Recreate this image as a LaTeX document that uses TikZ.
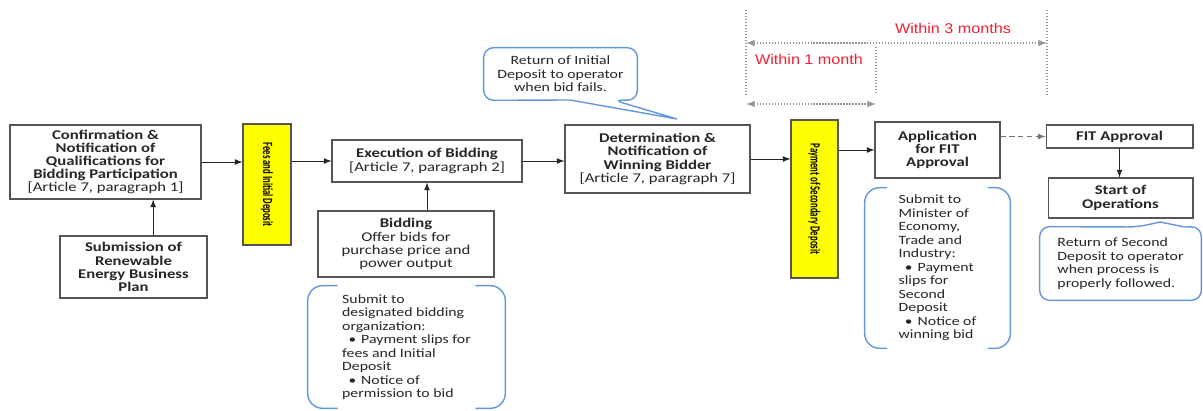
\documentclass[tikz,border=0pt]{standalone}
\usepackage{fontspec}
\setmainfont{Carlito}[FakeStretch=1.25]
\newfontfamily\narrowFont{Carlito}[FakeStretch=0.62]
\newfontfamily\monthFont{Liberation Sans}[FakeStretch=1.15]
\usepackage{tikz}
\tikzstyle{sheet} = [x = 0.02cm, y = -0.02cm]
\definecolor{boxLine}{RGB}{85,85,85}
\definecolor{depositYellow}{RGB}{255,255,0}
\definecolor{calloutBlue}{RGB}{100,150,220}
\definecolor{monthRed}{RGB}{240,30,50}
\definecolor{guideGray}{RGB}{150,150,150}
\tikzstyle{stepBox} = [draw=boxLine, fill=white, line width=0.6pt, align=center, inner sep=1pt, text=black!85, font=\fontsize{7.6}{7.5}\selectfont]
\tikzstyle{depositBox} = [draw=boxLine, fill=depositYellow, line width=0.6pt, inner sep=0pt]
\tikzstyle{depositText} = [rotate=-90, inner sep=0pt, font=\narrowFont\bfseries\fontsize{8}{8}\selectfont]
\tikzstyle{flowArrow} = [->, >=latex, line width=0.5pt, color=black!85]
\tikzstyle{noteLine} = [draw=calloutBlue, line width=0.8pt, rounded corners=0.2cm]
\tikzstyle{bracketLine} = [draw=calloutBlue, line width=0.8pt, rounded corners=0.3cm]
\tikzstyle{noteText} = [inner sep=0pt, align=left, text=black!85, font=\fontsize{7.2}{7.7}\selectfont]
\tikzstyle{guideLine} = [color=guideGray, densely dotted, line width=0.7pt]
\tikzstyle{monthText} = [color=monthRed, font=\monthFont\fontsize{8}{8}\selectfont]
\newcommand{\bracketPair}[2]{
  \draw [bracketLine] ([xshift=#2]#1.north west) -- (#1.north west) -- (#1.south west) -- ([xshift=#2]#1.south west);
  \draw [bracketLine] ([xshift=-#2]#1.north east) -- (#1.north east) -- (#1.south east) -- ([xshift=-#2]#1.south east);
}
\newcommand{\noteBullet}{\hspace{0.5em}{\scriptsize\textbullet}\hspace{0.4em}}

\begin{document}
\begin{tikzpicture}[sheet]
    \useasboundingbox (0,0) rectangle (1203,411);
    \node [stepBox, minimum width=3.82cm, minimum height=1.48cm] (confirmBox) at (105.5,162) {\textbf{Confirmation \&}\\\textbf{Notification of}\\\textbf{Qualifications for}\\\textbf{Bidding Participation}\\{[Article 7, paragraph 1]}};
    \node [stepBox, minimum width=2.94cm, minimum height=1.24cm] (planBox) at (133.5,267) {\textbf{Submission of}\\\textbf{Renewable}\\\textbf{Energy Business}\\\textbf{Plan}};
    \node [depositBox, minimum width=0.96cm, minimum height=2.42cm] (feeBox) at (267,184.5) {};
    \node [depositText] (feeText) at (feeBox) {Fees and Initial Deposit};
    \node [stepBox, minimum width=3.8cm, minimum height=0.84cm] (executeBox) at (427,161) {\textbf{Execution of Bidding}\\{[Article 7, paragraph 2]}};
    \node [stepBox, minimum width=3.52cm, minimum height=1.32cm] (bidBox) at (406,244) {\textbf{Bidding}\\Offer bids for\\purchase price and\\power output};
    \node [stepBox, minimum width=3.7cm, minimum height=1.36cm] (winnerBox) at (657.5,159) {\textbf{Determination \&}\\\textbf{Notification of}\\\textbf{Winning Bidder}\\{[Article 7, paragraph 7]}};
    \node [depositBox, minimum width=0.94cm, minimum height=3.16cm] (secondBox) at (814.5,199) {};
    \node [depositText] (secondText) at (secondBox) {Payment of Secondary Deposit};
    \node [stepBox, minimum width=2.5cm, minimum height=1.12cm] (applyBox) at (937.5,150) {\textbf{Application}\\\textbf{for FIT}\\\textbf{Approval}};
    \node [stepBox, minimum width=2.94cm, minimum height=0.46cm] (approvalBox) at (1119.5,136.5) {\textbf{FIT Approval}};
    \node [stepBox, minimum width=2.9cm, minimum height=0.8cm] (startBox) at (1120.5,198) {\textbf{Start of}\\\textbf{Operations}};

    \draw [flowArrow] (planBox.58) -- (planBox.58 |- confirmBox.south);
    \draw [flowArrow] (confirmBox.east) -- (confirmBox.east -| feeBox.west);
    \draw [flowArrow] (feeBox.east |- executeBox.west) -- (executeBox.west);
    \draw [flowArrow] (executeBox.south |- bidBox.north) -- (executeBox.south);
    \draw [flowArrow] (executeBox.east) -- (executeBox.east -| winnerBox.west);
    \draw [flowArrow] (winnerBox.east) -- (winnerBox.east -| secondBox.west);
    \draw [flowArrow] (secondBox.east |- applyBox.west) -- (applyBox.west);
    \draw [flowArrow, densely dashed, color=black!55] (applyBox.east |- approvalBox.west) -- (approvalBox.west);
    \draw [flowArrow] (approvalBox.south) -- (approvalBox.south |- startBox.north);

    \node [noteText, minimum width=3.94cm, minimum height=2.44cm] (bidNote) at (406.5,347) {Submit to\\designated bidding\\organization:\\\noteBullet Payment slips for\\fees and Initial\\Deposit\\\noteBullet Notice of\\permission to bid};
    \bracketPair{bidNote}{0.6cm}
    \node [noteText, minimum width=2.9cm, minimum height=3.2cm] (applyNote) at (937.5,268) {Submit to\\Minister of\\Economy,\\Trade and\\Industry:\\\noteBullet Payment\\slips for\\Second\\Deposit\\\noteBullet Notice of\\winning bid};
    \bracketPair{applyNote}{0.45cm}

    \node [noteText, align=center, minimum width=3.06cm, minimum height=1.04cm] (refundNote) at (560.5,74) {Return of Initial\\Deposit to operator\\when bid fails.};
    \coordinate (refundTip) at (677,119);
    \draw [noteLine] (refundNote.west) -- (refundNote.north west) -- (refundNote.north east) -- (refundNote.south east) -- (613,100) [sharp corners] -- (refundTip) -- (570,100) [rounded corners=0.2cm] -- (refundNote.south west) -- cycle;
    \node [noteText, minimum width=3.22cm, minimum height=1.46cm] (returnNote) at (1120.5,263.5) {Return of Second\\Deposit to operator\\when process is\\properly followed.};
    \coordinate (returnTip) at (1160,222);
    \draw [noteLine] (returnNote.west) -- (returnNote.north west) -- (1138,227) [sharp corners] -- (returnTip) -- (1185,227) [rounded corners=0.2cm] -- (returnNote.north east) -- (returnNote.south east) -- (returnNote.south west) -- cycle;

    \coordinate (startMark) at (746,10);
    \coordinate (monthMark) at (876,47);
    \coordinate (endMark) at (1047,10);
    \draw [guideLine] (startMark) -- (startMark |- 0,94);
    \draw [guideLine] (monthMark) -- (monthMark |- 0,94);
    \draw [guideLine] (endMark) -- (endMark |- 0,94);
    \draw [guideLine, <->, >=latex] (startMark |- 0,43) -- (endMark |- 0,43);
    \draw [guideLine, <->, >=latex] (startMark |- 0,104) -- (monthMark |- 0,104);
    \node [monthText] (threeMonths) at (953,28) {Within 3 months};
    \node [monthText] (oneMonth) at (809,59) {Within 1 month};
\end{tikzpicture}
\end{document}
